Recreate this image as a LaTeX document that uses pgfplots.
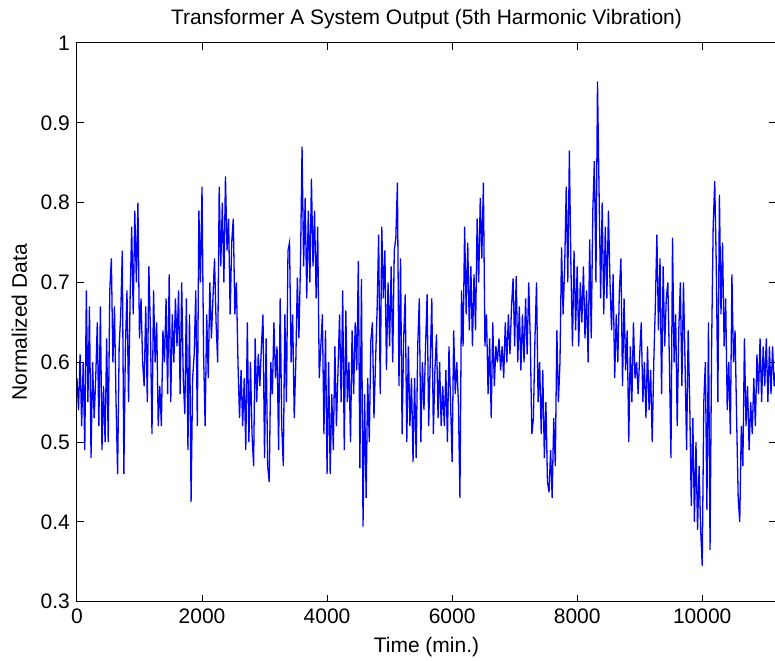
\documentclass[border=0pt]{standalone}
\usepackage{fontspec}
\setmainfont{Liberation Sans}
\usepackage{pgfplots}
\usepackage{pgfplotstable}
\pgfplotsset{compat=1.18}

\pgfplotstableread{
x y
0 0.58
25 0.54
50 0.61
75 0.52
100 0.60
125 0.49
150 0.69
175 0.55
200 0.67
225 0.48
250 0.60
275 0.53
300 0.58
325 0.65
350 0.52
375 0.67
400 0.49
425 0.57
450 0.50
475 0.63
500 0.50
525 0.69
550 0.73
575 0.60
600 0.67
625 0.55
650 0.46
675 0.62
700 0.66
725 0.74
750 0.46
775 0.62
800 0.69
825 0.55
850 0.68
875 0.77
900 0.66
925 0.79
950 0.70
975 0.80
1000 0.63
1025 0.68
1050 0.60
1075 0.57
1100 0.67
1125 0.55
1150 0.72
1175 0.64
1200 0.51
1225 0.69
1250 0.60
1275 0.65
1300 0.52
1325 0.57
1350 0.52
1375 0.64
1400 0.60
1425 0.68
1450 0.56
1475 0.71
1500 0.55
1525 0.66
1550 0.60
1575 0.68
1600 0.62
1625 0.69
1650 0.56
1675 0.70
1700 0.58
1725 0.535
1750 0.68
1775 0.49
1800 0.66
1825 0.425
1850 0.58
1875 0.61
1900 0.69
1925 0.52
1950 0.79
1975 0.70
2000 0.82
2025 0.61
2050 0.52
2075 0.66
2100 0.58
2125 0.70
2150 0.63
2175 0.68
2200 0.73
2225 0.65
2250 0.60
2275 0.82
2300 0.72
2325 0.80
2350 0.70
2375 0.833
2400 0.74
2425 0.78
2450 0.66
2475 0.75
2500 0.78
2525 0.66
2550 0.70
2575 0.60
2600 0.53
2625 0.59
2650 0.52
2675 0.58
2700 0.49
2725 0.65
2750 0.50
2775 0.60
2800 0.51
2825 0.47
2850 0.63
2875 0.55
2900 0.61
2925 0.57
2950 0.62
2975 0.66
3000 0.48
3025 0.63
3050 0.47
3075 0.45
3100 0.60
3125 0.56
3150 0.65
3175 0.58
3200 0.62
3225 0.49
3250 0.68
3275 0.52
3300 0.47
3325 0.66
3350 0.55
3375 0.74
3400 0.75
3425 0.60
3450 0.66
3475 0.53
3500 0.60
3525 0.706
3550 0.63
3575 0.725
3600 0.87
3625 0.72
3650 0.806
3675 0.68
3700 0.79
3725 0.70
3750 0.83
3775 0.72
3800 0.79
3825 0.68
3850 0.77
3875 0.58
3900 0.62
3925 0.66
3950 0.51
3975 0.64
4000 0.46
4025 0.60
4050 0.46
4075 0.56
4100 0.49
4125 0.62
4150 0.52
4175 0.59
4200 0.66
4225 0.55
4250 0.69
4275 0.49
4300 0.665
4325 0.55
4350 0.60
4375 0.50
4400 0.64
4425 0.56
4450 0.65
4475 0.59
4500 0.727
4525 0.467
4550 0.704
4575 0.394
4600 0.56
4625 0.43
4650 0.58
4675 0.50
4700 0.627
4725 0.65
4750 0.53
4775 0.60
4800 0.665
4825 0.76
4850 0.56
4875 0.77
4900 0.68
4925 0.74
4950 0.59
4975 0.70
5000 0.62
5025 0.72
5050 0.60
5075 0.74
5100 0.756
5125 0.825
5150 0.57
5175 0.73
5200 0.51
5225 0.63
5250 0.685
5275 0.50
5300 0.62
5325 0.52
5350 0.58
5375 0.475
5400 0.58
5425 0.48
5450 0.62
5475 0.68
5500 0.50
5525 0.60
5550 0.54
5575 0.62
5600 0.685
5625 0.52
5650 0.60
5675 0.68
5700 0.51
5725 0.59
5750 0.635
5775 0.53
5800 0.60
5825 0.52
5850 0.57
5875 0.52
5900 0.59
5925 0.50
5950 0.62
5975 0.55
6000 0.475
6025 0.64
6050 0.56
6075 0.60
6100 0.55
6125 0.43
6150 0.69
6175 0.62
6200 0.77
6225 0.66
6250 0.75
6275 0.64
6300 0.72
6325 0.62
6350 0.71
6375 0.64
6400 0.78
6425 0.70
6450 0.806
6475 0.73
6500 0.825
6525 0.62
6550 0.66
6575 0.56
6600 0.63
6625 0.53
6650 0.65
6675 0.57
6700 0.62
6725 0.60
6750 0.63
6775 0.59
6800 0.62
6825 0.58
6850 0.65
6875 0.60
6900 0.66
6925 0.61
6950 0.67
6975 0.705
7000 0.62
7025 0.708
7050 0.60
7075 0.67
7100 0.59
7125 0.66
7150 0.60
7175 0.68
7200 0.61
7225 0.70
7250 0.63
7275 0.51
7300 0.53
7325 0.63
7350 0.70
7375 0.55
7400 0.60
7425 0.51
7450 0.59
7475 0.48
7500 0.55
7525 0.45
7550 0.437
7575 0.49
7600 0.43
7625 0.53
7650 0.47
7675 0.64
7700 0.55
7725 0.60
7750 0.744
7775 0.66
7800 0.72
7825 0.82
7850 0.70
7875 0.865
7900 0.72
7925 0.62
7950 0.74
7975 0.64
8000 0.72
8025 0.62
8050 0.70
8075 0.65
8100 0.72
8125 0.63
8150 0.69
8175 0.60
8200 0.754
8225 0.63
8250 0.79
8275 0.852
8300 0.70
8325 0.952
8350 0.815
8375 0.68
8400 0.80
8425 0.66
8450 0.77
8475 0.68
8500 0.79
8525 0.70
8550 0.64
8575 0.71
8600 0.58
8625 0.66
8650 0.60
8675 0.69
8700 0.73
8725 0.57
8750 0.68
8775 0.59
8800 0.64
8825 0.50
8850 0.62
8875 0.55
8900 0.65
8925 0.58
8950 0.60
8975 0.56
9000 0.61
9025 0.65
9050 0.55
9075 0.60
9100 0.53
9125 0.62
9150 0.54
9175 0.59
9200 0.50
9225 0.60
9250 0.67
9275 0.76
9300 0.64
9325 0.73
9350 0.56
9375 0.72
9400 0.62
9425 0.68
9450 0.70
9475 0.60
9500 0.48
9525 0.756
9550 0.60
9575 0.66
9600 0.52
9625 0.64
9650 0.70
9675 0.57
9700 0.70
9725 0.60
9750 0.49
9775 0.64
9800 0.55
9825 0.42
9850 0.53
9875 0.40
9900 0.50
9925 0.39
9950 0.47
9975 0.39
10000 0.345
10025 0.55
10050 0.60
10075 0.415
10100 0.65
10125 0.365
10150 0.62
10175 0.77
10200 0.827
10225 0.72
10250 0.55
10275 0.81
10300 0.66
10325 0.75
10350 0.62
10375 0.68
10400 0.54
10425 0.60
10450 0.51
10475 0.71
10500 0.60
10525 0.64
10550 0.53
10575 0.43
10600 0.40
10625 0.52
10650 0.47
10675 0.63
10700 0.52
10725 0.57
10750 0.49
10775 0.55
10800 0.51
10825 0.58
10850 0.52
10875 0.61
10900 0.56
10925 0.63
10950 0.55
10975 0.62
11000 0.57
11025 0.63
11050 0.55
11075 0.62
11100 0.56
11125 0.62
11150 0.57
11175 0.59
}\datatable

\begin{document}
\begin{tikzpicture}
\begin{axis}[
  name=ax,
  scale only axis,
  width=349.7pt, height=279.5pt,
  xmin=0, xmax=11180, ymin=0.3, ymax=1,
  xtick={0,2000,4000,6000,8000,10000},
  ytick={0.3,0.4,0.5,0.6,0.7,0.8,0.9,1},
  scaled x ticks=false,
  /pgf/number format/1000 sep={},
  /pgf/number format/assume math mode=true,
  tick align=inside,
  major tick length=3.5pt,
  tick style={black, line width=0.5pt},
  axis line style={black, line width=0.5pt},
  ticklabel style={font=\fontsize{10.5}{12}\selectfont},
  label style={font=\fontsize{10.5}{12}\selectfont},
  title style={font=\fontsize{10.5}{12}\selectfont, yshift=-2.5pt},
  title={Transformer A System Output (5th Harmonic Vibration)},
  xlabel={Time (min.)},
  ylabel={Normalized Data},
]
\addplot[color=blue, line width=0.65pt, mark=none] table[x=x, y=y] {\datatable};
\end{axis}
\pgfresetboundingbox
\path[use as bounding box] ([xshift=-38.5pt,yshift=-29.5pt]ax.south west) rectangle ([xshift=349.2pt,yshift=301pt]ax.south west);
\end{tikzpicture}
\end{document}
